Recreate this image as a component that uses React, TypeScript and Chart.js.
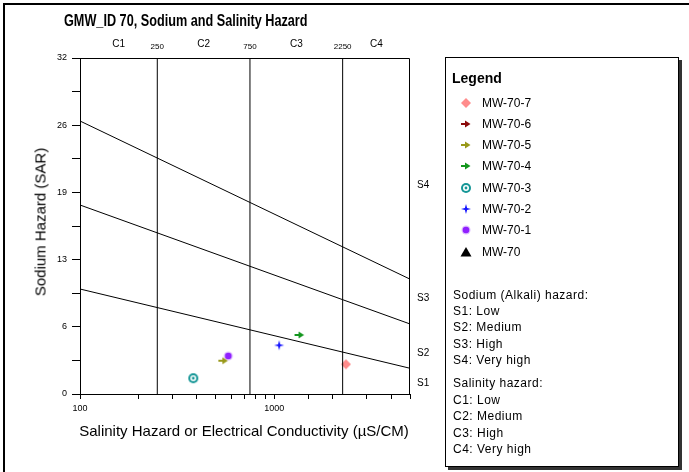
import React, { useEffect, useMemo, useRef } from 'react';
import { Chart, registerables } from 'chart.js';

Chart.register(...registerables);

// ---------- data ----------
const sampleNames = ['MW-70-7', 'MW-70-6', 'MW-70-5', 'MW-70-4', 'MW-70-3', 'MW-70-2', 'MW-70-1', 'MW-70'];
const sampleColors = ['#ff8c8c', '#8b0a0a', '#99991a', '#14961e', '#149696', '#1414ff', '#9020ff', '#000000'];
const sampleMarkers = ['diamond', 'arrow', 'arrow', 'arrow', 'ring', 'star', 'burst', 'triangle'];
const sampleEC: (number | null)[] = [2340, null, 547, 1350, 383, 1060, 580, null];
const sampleSAR: (number | null)[] = [2.83, null, 3.17, 5.62, 1.5, 4.64, 3.62, null];

const ecMin = 100;
const ecMax = 5000;
const sarMin = 0;
const sarMax = 32;
const sarStep = 3.2;
const xTickLabels = [100, 1000];

const salinityBounds = [250, 750, 2250];
const salinityClasses = ['C1', 'C2', 'C3', 'C4'];
const sodiumClasses = ['S1', 'S2', 'S3', 'S4'];
const sodiumLabelSAR = [1.05, 3.9, 9.1, 19.9];
// SAR boundary lines (S1/S2, S2/S3, S3/S4): value at EC min and at EC max
const boundaryStartSAR = [10, 18, 26];
const boundaryEndSAR = [2.45, 6.67, 10.94];

const sodiumHazardText = ['S1: Low', 'S2: Medium', 'S3: High', 'S4: Very high'];
const salinityHazardText = ['C1: Low', 'C2: Medium', 'C3: High', 'C4: Very high'];

const FONT = "'Liberation Sans', Arial, Helvetica, sans-serif";

function makeMarker(kind: string, color: string): HTMLCanvasElement {
  const c = document.createElement('canvas');
  c.width = 14;
  c.height = 14;
  const g = c.getContext('2d')!;
  const cx = 7, cy = 7;
  g.fillStyle = color;
  g.strokeStyle = color;
  if (kind === 'diamond') {
    g.beginPath();
    g.moveTo(cx, cy - 5); g.lineTo(cx + 5, cy); g.lineTo(cx, cy + 5); g.lineTo(cx - 5, cy);
    g.closePath(); g.fill();
  } else if (kind === 'arrow') {
    g.fillRect(cx - 5, cy - 1, 5, 2);
    g.beginPath();
    g.moveTo(cx - 1, cy - 3.5); g.lineTo(cx + 4.5, cy); g.lineTo(cx - 1, cy + 3.5);
    g.closePath(); g.fill();
  } else if (kind === 'ring') {
    g.beginPath(); g.arc(cx, cy, 5, 0, Math.PI * 2); g.fill();
    g.fillStyle = '#ffffff';
    g.beginPath(); g.arc(cx, cy, 3, 0, Math.PI * 2); g.fill();
    g.fillStyle = color;
    g.beginPath(); g.arc(cx, cy, 1.4, 0, Math.PI * 2); g.fill();
  } else if (kind === 'star') {
    g.beginPath();
    g.moveTo(cx, cy - 5); g.lineTo(cx + 1.1, cy - 1.1); g.lineTo(cx + 5, cy); g.lineTo(cx + 1.1, cy + 1.1);
    g.lineTo(cx, cy + 5); g.lineTo(cx - 1.1, cy + 1.1); g.lineTo(cx - 5, cy); g.lineTo(cx - 1.1, cy - 1.1);
    g.closePath(); g.fill();
  } else if (kind === 'burst') {
    g.globalAlpha = 0.3;
    g.beginPath(); g.arc(cx, cy, 4.5, 0, Math.PI * 2); g.fill();
    g.globalAlpha = 1;
    g.beginPath(); g.arc(cx, cy, 3.3, 0, Math.PI * 2); g.fill();
  } else if (kind === 'triangle') {
    g.beginPath();
    g.moveTo(cx, cy - 5); g.lineTo(cx + 5.5, cy + 4.5); g.lineTo(cx - 5.5, cy + 4.5);
    g.closePath(); g.fill();
  }
  return c;
}

const abs: React.CSSProperties = { position: 'absolute', whiteSpace: 'nowrap', color: '#000', lineHeight: 1 };

function Txt(props: {
  x: number;
  y: number;
  size: number;
  bold?: boolean;
  family?: string;
  spacing?: number;
  children: React.ReactNode;
}) {
  return (
    <div
      style={{
        ...abs,
        left: props.x,
        top: props.y,
        transform: 'translateY(-50%)',
        fontSize: props.size,
        fontWeight: props.bold ? 'bold' : 'normal',
        fontFamily: props.family || FONT,
        letterSpacing: props.spacing ? props.spacing : undefined,
      }}
    >
      {props.children}
    </div>
  );
}

export default function App() {
  const canvasRef = useRef<HTMLCanvasElement | null>(null);
  const markers = useMemo(() => sampleMarkers.map((m, i) => makeMarker(m, sampleColors[i])), []);
  const markerUrls = useMemo(() => markers.map((m) => m.toDataURL()), [markers]);

  useEffect(() => {
    const canvas = canvasRef.current!;
    const boundaryDatasets = boundaryStartSAR.map((s, i) => ({
      label: 'boundary' + i,
      data: [{ x: ecMin, y: s }, { x: ecMax, y: boundaryEndSAR[i] }],
      showLine: true,
      borderColor: '#000',
      borderWidth: 1,
      pointRadius: 0,
      fill: false,
    }));
    const verticalDatasets = salinityBounds.map((b, i) => ({
      label: 'salinity' + i,
      data: [{ x: b, y: sarMin }, { x: b, y: sarMax }],
      showLine: true,
      borderColor: '#000',
      borderWidth: 1,
      pointRadius: 0,
      fill: false,
    }));
    const sampleDatasets = sampleNames.map((n, i) => ({
      label: n,
      data: sampleEC[i] != null && sampleSAR[i] != null ? [{ x: sampleEC[i] as number, y: sampleSAR[i] as number }] : [],
      pointStyle: markers[i] as any,
      pointRadius: 5,
      showLine: false,
      backgroundColor: sampleColors[i],
      borderColor: sampleColors[i],
    }));

    const annotations = {
      id: 'annotations',
      afterDraw(chart: any) {
        const { ctx, chartArea, scales } = chart;
        const xs = scales.x, ys = scales.y;
        ctx.save();
        ctx.strokeStyle = '#000';
        ctx.lineWidth = 1;
        ctx.beginPath();
        ctx.moveTo(Math.round(chartArea.left) + 0.5, Math.round(chartArea.top) + 0.5);
        ctx.lineTo(Math.round(chartArea.right) - 0.5, Math.round(chartArea.top) + 0.5);
        ctx.lineTo(Math.round(chartArea.right) - 0.5, Math.round(chartArea.bottom) + 0.5);
        ctx.stroke();
        ctx.fillStyle = '#000';
        ctx.textAlign = 'center';
        ctx.textBaseline = 'middle';
        // salinity class labels
        const edges = [ecMin, ...salinityBounds, ecMax];
        ctx.font = `10px ${FONT}`;
        salinityClasses.forEach((c, i) => {
          const mid = Math.sqrt(edges[i] * edges[i + 1]);
          ctx.fillText(c, xs.getPixelForValue(mid), chartArea.top - 14);
        });
        ctx.font = `8px ${FONT}`;
        salinityBounds.forEach((b) => {
          ctx.fillText(String(b), xs.getPixelForValue(b), chartArea.top - 11);
        });
        // sodium class labels
        ctx.font = `10px ${FONT}`;
        ctx.textAlign = 'left';
        sodiumClasses.forEach((s, i) => {
          ctx.fillText(s, chartArea.right + 7, ys.getPixelForValue(sodiumLabelSAR[i]));
        });
        ctx.restore();
      },
    };

    const chart = new Chart(canvas, {
      type: 'scatter',
      data: { datasets: [...boundaryDatasets, ...verticalDatasets, ...sampleDatasets] as any },
      options: {
        animation: false,
        responsive: false,
        maintainAspectRatio: false,
        layout: { padding: { left: 0, top: 58, right: 279, bottom: 0 } },
        plugins: {
          legend: { display: false },
          tooltip: { enabled: false },
          title: { display: false },
        },
        scales: {
          x: {
            type: 'logarithmic',
            min: ecMin,
            max: ecMax,
            position: 'bottom',
            grid: { drawOnChartArea: false, drawTicks: true, tickLength: 5, color: '#000' },
            border: { color: '#000', width: 1 },
            ticks: {
              autoSkip: false,
              maxRotation: 0,
              color: '#000',
              padding: 4,
              font: { size: 9, family: FONT },
              callback: (v: any) => {
                const n = Number(v);
                return xTickLabels.some((t) => Math.abs(t - n) < 1e-6) ? String(Math.round(n)) : '';
              },
            },
            afterFit: (s: any) => {
              s.height = 78;
            },
          },
          y: {
            type: 'linear',
            min: sarMin,
            max: sarMax,
            grid: { drawOnChartArea: false, drawTicks: true, tickLength: 8, color: '#000' },
            border: { color: '#000', width: 1 },
            ticks: {
              stepSize: sarStep,
              color: '#000',
              padding: 5,
              font: { size: 9, family: FONT },
              callback: (v: any, i: number) => (i % 2 === 0 ? String(Math.round(Number(v))) : ''),
            },
            afterFit: (s: any) => {
              s.width = 80;
            },
          },
        },
      },
      plugins: [annotations],
    });
    return () => chart.destroy();
  }, [markers]);

  const legendItemY = sampleNames.map((_, i) => 102.5 + i * 21.3);
  const sodiumY = [295, 311.2, 327.4, 343.6, 359.8];
  const salinityY = [383, 399.5, 416, 432.5, 449];

  return (
    <div style={{ position: 'fixed', left: 0, top: 0, width: 689, height: 472, background: '#fff', overflow: 'hidden' }}>
      <canvas ref={canvasRef} width={689} height={472} style={{ position: 'absolute', left: 0, top: 0, width: 689, height: 472 }} />
      {/* outer frame */}
      <div style={{ position: 'absolute', left: 3, top: 3, width: 689, height: 2, background: '#000' }} />
      <div style={{ position: 'absolute', left: 3, top: 3, width: 2, height: 472, background: '#000' }} />
      {/* title */}
      <div
        style={{
          ...abs,
          left: 64,
          top: 20,
          transform: 'translateY(-50%) scaleX(0.745)',
          transformOrigin: 'left center',
          fontSize: 17,
          fontWeight: 'bold',
          fontFamily: FONT,
        }}
      >
        GMW_ID 70, Sodium and Salinity Hazard
      </div>
      {/* axis titles */}
      <div
        style={{
          ...abs,
          left: 40,
          top: 222,
          transform: 'translate(-50%, -50%) rotate(-90deg)',
          fontSize: 15,
          fontFamily: FONT,
        }}
      >
        Sodium Hazard (SAR)
      </div>
      <div
        style={{
          ...abs,
          left: 244,
          top: 430,
          transform: 'translate(-50%, -50%)',
          fontSize: 15,
          fontFamily: FONT,
        }}
      >
        Salinity Hazard or Electrical Conductivity (µS/CM)
      </div>
      {/* legend box */}
      <div
        style={{
          position: 'absolute',
          left: 445,
          top: 57,
          width: 232,
          height: 408,
          border: '1px solid #000',
          boxShadow: '3px 3px 0 #333',
          background: '#fff',
        }}
      />
      <Txt x={452} y={78} size={14} bold>
        Legend
      </Txt>
      {sampleNames.map((n, i) => (
        <React.Fragment key={n}>
          <img src={markerUrls[i]} width={14} height={14} style={{ position: 'absolute', left: 466 - 7, top: legendItemY[i] - 7 }} />
          <Txt x={482} y={legendItemY[i]} size={12}>
            {n}
          </Txt>
        </React.Fragment>
      ))}
      <Txt x={453} y={sodiumY[0]} size={12} spacing={0.5}>
        Sodium (Alkali) hazard:
      </Txt>
      {sodiumHazardText.map((t, i) => (
        <Txt key={t} x={453} y={sodiumY[i + 1]} size={12} spacing={0.5}>
          {t}
        </Txt>
      ))}
      <Txt x={453} y={salinityY[0]} size={12} spacing={0.5}>
        Salinity hazard:
      </Txt>
      {salinityHazardText.map((t, i) => (
        <Txt key={t} x={453} y={salinityY[i + 1]} size={12} spacing={0.5}>
          {t}
        </Txt>
      ))}
    </div>
  );
}
